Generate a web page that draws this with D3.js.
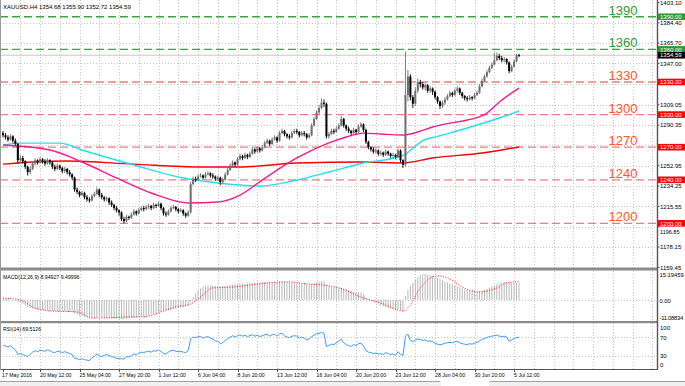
<!DOCTYPE html>
<html>
<head>
<meta charset="utf-8">
<script src="https://cdn.jsdelivr.net/npm/d3@7"></script>
<style>
  body { margin: 0; background: #fff; }
  svg { display: block; font-family: "Liberation Sans", Arial, sans-serif; }
</style>
</head>
<body>
<div id="viz"></div>
<script>
// XAUUSD H4 candles, bar index = position in the arrays
const opens = [1283,1281,1279,1277,1280,1276,1273,1258,1260,1257,
  1252,1247,1250,1255,1258,1256,1259,1257,1255,1258,
  1256,1252,1250,1253,1251,1248,1250,1247,1245,1242,
  1231,1229,1226,1228,1224,1222,1221,1225,1227,1231,
  1226,1224,1222,1223,1219,1217,1214,1212,1210,1204,
  1202,1206,1205,1208,1211,1209,1212,1214,1213,1215,
  1216,1214,1217,1216,1218,1214,1209,1208,1211,1214,
  1215,1213,1211,1212,1209,1207,1210,1236,1241,1240,
  1243,1244,1242,1245,1246,1244,1243,1241,1242,1238,
  1240,1245,1249,1253,1256,1254,1259,1262,1260,1263,
  1261,1264,1268,1266,1269,1267,1270,1274,1276,1273,
  1277,1279,1276,1283,1285,1282,1280,1279,1283,1285,
  1284,1281,1283,1282,1279,1281,1290,1296,1302,1306,
  1311,1310,1280,1282,1285,1284,1287,1290,1296,1290,
  1287,1285,1283,1286,1284,1289,1291,1286,1275,1270,
  1268,1266,1267,1264,1265,1263,1266,1264,1262,1263,
  1261,1267,1258,1254,1318,1335,1316,1310,1322,1330,
  1328,1325,1327,1322,1324,1321,1316,1312,1308,1311,
  1314,1317,1320,1318,1322,1324,1320,1317,1315,1314,
  1316,1315,1318,1320,1326,1331,1335,1339,1343,1346,
  1350,1354,1352,1350,1351,1348,1340,1344,1349,1354.68]

const highs = [1285,1283,1281,1282,1281,1278,1274,1263,1262,1258,
  1253,1252,1257,1260,1259,1261,1260,1259,1260,1259,
  1257,1254,1255,1254,1252,1252,1251,1249,1246,1243,
  1233,1230,1230,1229,1226,1224,1227,1229,1233,1232,
  1228,1225,1225,1224,1221,1218,1216,1213,1211,1206,
  1208,1207,1210,1213,1212,1214,1216,1216,1217,1218,
  1217,1219,1218,1220,1219,1215,1211,1213,1216,1217,
  1216,1214,1214,1213,1210,1212,1238,1243,1243,1245,
  1246,1245,1247,1248,1247,1246,1244,1244,1243,1242,
  1247,1251,1255,1258,1257,1261,1264,1263,1265,1264,
  1266,1270,1269,1271,1270,1272,1276,1278,1277,1279,
  1281,1280,1285,1287,1286,1283,1282,1285,1287,1287,
  1285,1285,1285,1283,1283,1292,1298,1304,1309,1315,
  1314,1311,1284,1287,1287,1289,1292,1299,1297,1291,
  1289,1286,1288,1287,1291,1293,1292,1287,1276,1271,
  1270,1269,1268,1267,1266,1268,1267,1265,1265,1264,
  1269,1268,1259,1358,1341,1337,1318,1325,1333,1332,
  1330,1329,1328,1326,1325,1322,1317,1313,1313,1316,
  1319,1322,1321,1324,1326,1325,1321,1318,1317,1318,
  1317,1320,1322,1328,1333,1337,1341,1345,1348,1357,
  1357,1356,1354,1353,1352,1349,1346,1351,1356,1355.90]

const lows = [1279,1277,1275,1276,1274,1271,1255,1256,1255,1250,
  1244,1245,1249,1253,1254,1255,1255,1253,1254,1254,
  1250,1248,1249,1249,1246,1246,1245,1243,1240,1229,
  1227,1224,1225,1222,1220,1219,1220,1224,1226,1224,
  1222,1220,1220,1217,1215,1212,1210,1207,1202,1200,
  1201,1203,1204,1207,1207,1208,1211,1211,1212,1213,
  1212,1213,1214,1215,1212,1207,1206,1207,1210,1213,
  1211,1209,1210,1207,1205,1206,1209,1235,1238,1239,
  1242,1240,1241,1244,1242,1241,1239,1239,1235,1236,
  1239,1244,1248,1252,1252,1253,1258,1258,1259,1259,
  1260,1263,1264,1265,1265,1266,1269,1273,1271,1272,
  1276,1274,1275,1282,1280,1278,1277,1278,1282,1282,
  1279,1280,1280,1277,1278,1280,1289,1295,1300,1305,
  1307,1278,1278,1281,1282,1283,1286,1289,1288,1285,
  1283,1281,1282,1282,1283,1288,1284,1273,1268,1266,
  1264,1264,1262,1262,1261,1262,1262,1260,1260,1259,
  1260,1256,1251,1252,1312,1313,1306,1308,1320,1325,
  1323,1322,1320,1320,1318,1314,1310,1305,1306,1309,
  1313,1316,1316,1317,1320,1318,1315,1313,1312,1313,
  1313,1314,1317,1319,1325,1330,1334,1338,1342,1345,
  1349,1350,1348,1348,1346,1338,1339,1343,1348,1352.72]

const closes = [1281,1279,1277,1280,1276,1273,1258,1260,1257,1252,
  1247,1250,1255,1258,1256,1259,1257,1255,1258,1256,
  1252,1250,1253,1251,1248,1250,1247,1245,1242,1231,
  1229,1226,1228,1224,1222,1221,1225,1227,1231,1226,
  1224,1222,1223,1219,1217,1214,1212,1210,1204,1202,
  1206,1205,1208,1211,1209,1212,1214,1213,1215,1216,
  1214,1217,1216,1218,1214,1209,1208,1211,1214,1215,
  1213,1211,1212,1209,1207,1210,1236,1241,1240,1243,
  1244,1242,1245,1246,1244,1243,1241,1242,1238,1240,
  1245,1249,1253,1256,1254,1259,1262,1260,1263,1261,
  1264,1268,1266,1269,1267,1270,1274,1276,1273,1277,
  1279,1276,1283,1285,1282,1280,1279,1283,1285,1284,
  1281,1283,1282,1279,1281,1290,1296,1302,1306,1311,
  1310,1280,1282,1285,1284,1287,1290,1296,1290,1287,
  1285,1283,1286,1284,1289,1291,1286,1275,1270,1268,
  1266,1267,1264,1265,1263,1266,1264,1262,1263,1261,
  1267,1258,1254,1318,1335,1316,1310,1322,1330,1328,
  1325,1327,1322,1324,1321,1316,1312,1308,1311,1314,
  1317,1320,1318,1322,1324,1320,1317,1315,1314,1316,
  1315,1318,1320,1326,1331,1335,1339,1343,1346,1350,
  1354,1352,1350,1351,1348,1340,1344,1349,1354.68,1354.59]

// moving averages (bar index, price)
const pinkMaBars = [0, 19, 32, 46, 60, 75, 87, 96, 105, 119, 132, 139, 146, 153, 162, 168, 174, 181, 188, 196, 201, 209]
const pinkMa = [1272.0, 1267.4, 1256.4, 1241.7, 1227.9, 1218.7, 1219.6, 1226.0, 1239.8, 1260.1, 1273.9, 1279.4, 1283.0, 1282.1, 1281.2, 1284.0, 1288.6, 1292.2, 1295.0, 1301.4, 1311.6, 1324.4]
const cyanMaBars = [0, 7, 23, 32, 53, 73, 87, 96, 104, 119, 132, 146, 160, 163, 166, 170, 176, 188, 201, 209]
const cyanMa = [1272.0, 1273.8, 1273.8, 1267.4, 1253.6, 1241.7, 1237.1, 1235.2, 1234.3, 1239.8, 1247.2, 1255.5, 1261.0, 1263.5, 1269.0, 1276.0, 1280.0, 1287.7, 1296.9, 1303.3]
const redMaBars = [0, 12, 26, 53, 80, 96, 119, 146, 162, 174, 194, 209]
const redMa = [1254.4, 1256.4, 1257.3, 1254.4, 1251.8, 1251.8, 1255.5, 1256.4, 1255.5, 1260.1, 1264.7, 1270.2]

// horizontal levels
const greenLevels = [1390, 1360]
const redLevels = [1330, 1300, 1270, 1240, 1200]
const lastPrice = 1354.59

// MACD(12,26,9)
const macdHist = [1.0, 0.8, 0.5, 0.3, 0.0, -0.3, -0.8, -1.5,
  -2.2, -3.0, -3.8, -4.3, -4.6, -4.8, -5.0, -5.2,
  -5.4, -5.5, -5.6, -5.7, -5.8, -5.9, -6.0, -6.0, -6.1, -6.1, -6.2, -6.3, -6.5, -7.2,
  -7.8, -8.3, -8.6, -8.9, -9.1, -9.3, -9.4, -9.4, -9.2, -9.3, -9.4, -9.5, -9.6, -9.7, -9.8,
  -9.8, -9.9, -10.0, -10.2, -10.3, -10.1, -9.9, -9.7, -9.5, -9.3, -9.1, -9.0, -8.9,
  -8.6, -8.2, -7.8, -7.4, -7.0, -6.6, -6.3, -6.0, -5.8, -5.5, -5.2, -4.9, -4.6, -4.3, -4.0, -3.7, -3.5, -3.2,
  -1.0, 1.5, 3.5, 5.0, 6.0, 6.8, 7.2, 7.5,
  7.6, 7.5, 7.3, 7.2, 7.0, 7.1, 7.3, 7.6, 7.9, 8.1, 8.2, 8.3, 8.5, 8.6, 8.7, 8.8, 8.9,
  9.0, 9.0, 9.1, 9.1, 9.2, 9.3, 9.4, 9.4, 9.4, 9.5, 9.4, 9.5, 9.6, 9.5, 9.3, 9.1, 9.0, 8.9, 8.7, 8.5,
  8.4, 8.3, 8.1, 8.0, 8.3, 8.8, 9.3, 9.6, 9.8, 9.7, 8.0, 7.2, 6.8, 6.5, 6.3, 6.2, 6.4, 6.0, 5.6, 5.2, 4.8,
  4.4, 4.2, 4.0, 3.8, 3.0, 1.5, 0.5, -0.3, -1.0,
  -1.8, -2.4, -3.0, -3.4, -3.8, -4.2, -4.5, -4.8, -5.0, -4.8, -5.3, -5.8,
  2.0, 5.5, 7.5, 9.0, 10.8, 12.2, 13.2, 13.6, 13.5, 13.3, 13.0, 12.7, 12.2, 11.6,
  11.0, 10.3, 9.7, 9.2, 8.7, 8.2, 7.7, 7.2, 6.7, 6.2, 5.7, 5.3, 5.0,
  4.7, 4.5, 4.4, 4.5, 4.8, 5.3, 5.9,
  6.5, 7.1, 7.7, 8.2, 8.7, 9.1, 9.4, 9.5, 9.2, 9.0, 8.9, 8.9, 8.95]
const signalBars = [0, 7, 12, 19, 30, 36, 39, 53, 57, 64, 70, 76, 80, 85, 93, 107, 115, 123, 132, 136, 146, 153, 160, 162, 165, 168, 172, 176, 180, 186, 193, 200, 204, 209]
const signalVals = [1.0, 0.0, -3.7, -5.8, -6.3, -9.5, -9.5, -8.9, -8.9, -6.3, -3.7, -2.1, 1.6, 6.3, 6.8, 8.9, 9.5, 8.4, 7.4, 6.3, 1.0, -1.6, -5.3, -5.8, -2.6, 4.2, 10.5, 12.6, 11.6, 6.8, 4.2, 6.3, 8.9, 9.5]

// RSI(14)
const rsiVals = [53, 51, 49, 52, 47, 43, 33, 35, 33, 31,
  29, 33, 38, 41, 39, 42, 41, 40, 43, 41,
  38, 37, 40, 39, 37, 39, 37, 35, 33, 25,
  24, 22, 24, 22, 21, 20, 26, 29, 34, 30,
  29, 31, 33, 30, 29, 27, 25, 24, 24, 23,
  28, 28, 30, 34, 32, 36, 38, 37, 39, 40,
  38, 41, 40, 43, 39, 35, 34, 38, 41, 42,
  40, 39, 40, 38, 37, 41, 66, 70, 69, 71,
  71, 68, 70, 71, 68, 66, 62, 61, 56, 58,
  63, 66, 70, 73, 70, 73, 75, 72, 74, 71,
  73, 75, 72, 74, 71, 73, 75, 76, 72, 75,
  76, 72, 77, 78, 73, 70, 69, 72, 73, 72,
  68, 70, 68, 64, 66, 71, 74, 77, 78, 80,
  78, 50, 52, 55, 54, 58, 61, 66, 58, 54,
  52, 50, 54, 52, 56, 57, 51, 41, 38, 37,
  35, 36, 34, 35, 33, 37, 35, 33, 34, 31,
  39, 33, 31, 72, 76, 63, 60, 64, 66, 65,
  63, 64, 61, 62, 60, 57, 55, 53, 55, 57,
  58, 59, 58, 60, 61, 58, 56, 55, 54, 56,
  55, 57, 59, 62, 65, 67, 69, 71, 72, 73,
  74, 72, 71, 72, 70, 61, 64, 67, 69, 69.5]

// axis labels
const priceTicks = [1403.10, 1384.40, 1365.70, 1347.00, 1328.30, 1309.05, 1290.35, 1271.65, 1252.95, 1234.25, 1215.55, 1196.85, 1178.15, 1159.45]
const timeLabels = ['17 May 2016', '20 May 12:00', '25 May 04:00', '27 May 20:00', '1 Jun 12:00', '6 Jun 04:00', '8 Jun 20:00', '13 Jun 12:00', '16 Jun 04:00', '20 Jun 20:00', '23 Jun 12:00', '28 Jun 04:00', '30 Jun 20:00', '5 Jul 12:00']
const timeLabelBars = [0, 15, 31, 47, 63, 79, 95, 111, 127, 143, 159, 175, 191, 207]

let width = 685, height = 386
let plotRight = 657

let x = d3.scaleLinear().domain([0, 209]).range([3, 3 + 209 * 2.469])
let y = d3.scaleLinear().domain([1159.45, 1403.10]).range([267.4, 2.5])
let yMacd = d3.scaleLinear().domain([-11.08834, 15.19459]).range([321, 271])
let yRsi = d3.scaleLinear().domain([0, 100]).range([370, 323])

let svg = d3.select('#viz')
            .append('svg')
            .attr('width', width)
            .attr('height', height)
            .style('background', '#fff')

const gridColor = '#c4c4c4'

// vertical grid, every 8 bars
let gridBars = d3.range(7, 265, 8)
const panels = [[0, 268], [271, 321], [323, 369]]
panels.forEach(p => {
  svg.append('g').selectAll('line')
    .data(gridBars)
    .enter()
      .append('line')
      .attr('x1', d => Math.round(x(d)) + 0.5)
      .attr('x2', d => Math.round(x(d)) + 0.5)
      .attr('y1', p[0])
      .attr('y2', p[1])
      .attr('stroke', gridColor)
      .attr('stroke-dasharray', '1,2')
})

// horizontal grid
svg.append('g').selectAll('line')
  .data(priceTicks.slice(1, -1))
  .enter()
    .append('line')
    .attr('x1', 0).attr('x2', plotRight)
    .attr('y1', d => Math.round(y(d)) + 0.5)
    .attr('y2', d => Math.round(y(d)) + 0.5)
    .attr('stroke', gridColor)
    .attr('stroke-dasharray', '1,2')

svg.append('line')
  .attr('x1', 0).attr('x2', plotRight)
  .attr('y1', Math.round(yMacd(0)) + 0.5).attr('y2', Math.round(yMacd(0)) + 0.5)
  .attr('stroke', gridColor).attr('stroke-dasharray', '1,2')

svg.append('g').selectAll('line')
  .data([70, 30])
  .enter()
    .append('line')
    .attr('x1', 0).attr('x2', plotRight)
    .attr('y1', d => Math.round(yRsi(d)) + 0.5)
    .attr('y2', d => Math.round(yRsi(d)) + 0.5)
    .attr('stroke', gridColor)
    .attr('stroke-dasharray', '1,2')

// bid line
svg.append('line')
  .attr('x1', 0).attr('x2', plotRight)
  .attr('y1', y(lastPrice)).attr('y2', y(lastPrice))
  .attr('stroke', '#c8c8c8').attr('stroke-width', 1)

// level lines
svg.append('g').selectAll('line')
  .data(greenLevels)
  .enter()
    .append('line')
    .attr('x1', 0).attr('x2', plotRight)
    .attr('y1', d => y(d)).attr('y2', d => y(d))
    .attr('stroke', '#3fa33f')
    .attr('stroke-width', 1.3)
    .attr('stroke-dasharray', '8,4')

svg.append('g').selectAll('line')
  .data(redLevels)
  .enter()
    .append('line')
    .attr('x1', 0).attr('x2', plotRight)
    .attr('y1', d => y(d)).attr('y2', d => y(d))
    .attr('stroke', '#f77b7b')
    .attr('stroke-width', 1.3)
    .attr('stroke-dasharray', '8,4')

// moving averages
let maLine = (bars, vals) => d3.line()
  .x((d, k) => x(bars[k]))
  .y(d => y(d))
  .curve(d3.curveMonotoneX)(vals)

svg.append('path').attr('d', maLine(redMaBars, redMa))
  .attr('fill', 'none').attr('stroke', '#ff0000').attr('stroke-width', 1.4)
svg.append('path').attr('d', maLine(cyanMaBars, cyanMa))
  .attr('fill', 'none').attr('stroke', '#22e0f0').attr('stroke-width', 1.4)
svg.append('path').attr('d', maLine(pinkMaBars, pinkMa))
  .attr('fill', 'none').attr('stroke', '#ff1a8c').attr('stroke-width', 1.4)

// candles: bear black, bull grey
let candles = d3.range(closes.length).map(i => {
  return { i: i, o: opens[i], h: highs[i], l: lows[i], c: closes[i] }
})
let candleColor = d => d.c >= d.o ? '#6e6e6e' : '#000'

svg.append('g').selectAll('line')
  .data(candles)
  .enter()
    .append('line')
    .attr('x1', d => x(d.i)).attr('x2', d => x(d.i))
    .attr('y1', d => y(d.h)).attr('y2', d => y(d.l))
    .attr('stroke', candleColor)
    .attr('stroke-width', 0.9)

svg.append('g').selectAll('rect')
  .data(candles)
  .enter()
    .append('rect')
    .attr('x', d => x(d.i) - 1)
    .attr('width', 2)
    .attr('y', d => y(Math.max(d.o, d.c)))
    .attr('height', d => Math.max(0.8, Math.abs(y(d.o) - y(d.c))))
    .style('fill', candleColor)

// level captions
svg.append('g').selectAll('text')
  .data(greenLevels)
  .enter()
    .append('text')
    .attr('x', 623).attr('y', d => y(d) - 2)
    .attr('text-anchor', 'middle')
    .attr('font-size', 13)
    .attr('fill', '#2f9a2f')
    .text(d => d)

svg.append('g').selectAll('text')
  .data(redLevels)
  .enter()
    .append('text')
    .attr('x', 623).attr('y', d => y(d) - 2)
    .attr('text-anchor', 'middle')
    .attr('font-size', 13)
    .attr('fill', '#ff5722')
    .text(d => d)

// MACD
svg.append('g').selectAll('line')
  .data(macdHist)
  .enter()
    .append('line')
    .attr('x1', (d, i) => x(i)).attr('x2', (d, i) => x(i))
    .attr('y1', yMacd(0)).attr('y2', d => yMacd(d))
    .attr('stroke', '#b8b8b8')
    .attr('stroke-width', 1)

svg.append('path')
  .attr('d', d3.line().x((d, k) => x(signalBars[k])).y(d => yMacd(d)).curve(d3.curveMonotoneX)(signalVals))
  .attr('fill', 'none')
  .attr('stroke', '#ff2020')
  .attr('stroke-width', 1)
  .attr('stroke-dasharray', '1,1.5')

// RSI
svg.append('path')
  .attr('d', d3.line().x((d, i) => x(i)).y(d => yRsi(d))(rsiVals))
  .attr('fill', 'none')
  .attr('stroke', '#3b9bff')
  .attr('stroke-width', 1)

// frame
svg.append('rect').attr('x', 0).attr('y', 267.5).attr('width', plotRight + 1).attr('height', 3).attr('fill', '#8a8a8a')
svg.append('rect').attr('x', 0).attr('y', 321).attr('width', plotRight + 1).attr('height', 2.2).attr('fill', '#8a8a8a')
svg.append('line').attr('x1', 0).attr('x2', plotRight + 1).attr('y1', 369.5).attr('y2', 369.5).attr('stroke', '#555')
svg.append('line').attr('x1', plotRight + 0.5).attr('x2', plotRight + 0.5).attr('y1', 0).attr('y2', 370).attr('stroke', '#555').attr('stroke-width', 1.4)
svg.append('line').attr('x1', 0.5).attr('x2', 0.5).attr('y1', 0).attr('y2', 370).attr('stroke', '#9a9a9a')

// level tags on axis
let tags = greenLevels.map(v => ({ v: v, c: '#2f9a2f' }))
  .concat(redLevels.map(v => ({ v: v, c: '#ff0000' })))
  .concat([{ v: lastPrice, c: '#000' }])

// price axis labels; those sitting under a tag are left out, 1196.85 peeks out below its tag
let shownTicks = priceTicks.filter(t => !tags.some(g => Math.abs(y(g.v) - y(t)) < 4))
svg.append('g').selectAll('text')
  .data(shownTicks)
  .enter()
    .append('text')
    .attr('x', 660)
    .attr('y', d => y(d) + 2.2)
    .attr('font-size', 6)
    .attr('fill', '#000')
    .text(d => d.toFixed(2))
svg.append('text').attr('x', 660).attr('y', y(1196.85) + 7.2).attr('font-size', 5.5).text('1196.85')

svg.append('g').selectAll('line')
  .data(priceTicks)
  .enter()
    .append('line')
    .attr('x1', plotRight).attr('x2', plotRight + 2.5)
    .attr('y1', d => y(d)).attr('y2', d => y(d))
    .attr('stroke', '#555')

let tagG = svg.append('g').selectAll('g')
  .data(tags)
  .enter()
    .append('g')
tagG.append('rect')
  .attr('x', plotRight + 1).attr('width', 27)
  .attr('y', d => y(d.v) - 3.3).attr('height', 6.6)
  .style('fill', d => d.c)
tagG.append('text')
  .attr('x', 660).attr('y', d => y(d.v) + 2.2)
  .attr('font-size', 6)
  .attr('fill', '#fff')
  .text(d => d.v.toFixed(2))

// MACD axis
const macdLabels = [[15.19459, '15.19459', 5.5], [0, '0.00', 3], [-11.08834, '-11.08834', -1]]
svg.append('g').selectAll('text')
  .data(macdLabels)
  .enter()
    .append('text')
    .attr('x', 659.5).attr('y', d => yMacd(d[0]) + d[2])
    .attr('font-size', 5.8)
    .attr('letter-spacing', d => d[1].length > 8 ? -0.25 : 0)
    .text(d => d[1])

// RSI axis
const rsiLabels = [[100, 6.5], [70, 3], [30, 2.5], [0, -3]]
svg.append('g').selectAll('text')
  .data(rsiLabels)
  .enter()
    .append('text')
    .attr('x', 660).attr('y', d => yRsi(d[0]) + d[1])
    .attr('font-size', 6)
    .text(d => d[0])

// time axis
svg.append('g').selectAll('text')
  .data(timeLabels)
  .enter()
    .append('text')
    .attr('x', (d, k) => k === 0 ? 2 : x(timeLabelBars[k]))
    .attr('y', 377)
    .attr('font-size', 5.2)
    .text(d => d)

svg.append('g').selectAll('line')
  .data(timeLabelBars)
  .enter()
    .append('line')
    .attr('x1', d => Math.round(x(d)) + 0.5).attr('x2', d => Math.round(x(d)) + 0.5)
    .attr('y1', 370).attr('y2', 372)
    .attr('stroke', '#555')

// titles
svg.append('text').attr('x', 3).attr('y', 8.5).attr('font-size', 6)
  .text('XAUUSD,H4  1354.68 1355.90 1352.72 1354.59')
svg.append('text').attr('x', 3).attr('y', 278.5).attr('font-size', 5.2)
  .text('MACD(12,26,9) 8.94927 9.49996')
svg.append('text').attr('x', 3).attr('y', 330.5).attr('font-size', 5.2)
  .text('RSI(14) 69.5126')

// tab strip
svg.append('rect').attr('x', 0).attr('y', 381).attr('width', width).attr('height', 5).attr('fill', '#f0f0f0')
svg.append('line').attr('x1', 0).attr('x2', 440).attr('y1', 381.5).attr('y2', 381.5).attr('stroke', '#a0a0a0')
svg.append('line').attr('x1', 490).attr('x2', width).attr('y1', 381.5).attr('y2', 381.5).attr('stroke', '#a0a0a0')
svg.append('rect').attr('x', 441).attr('y', 381).attr('width', 48).attr('height', 5).attr('fill', '#fff')
</script>
</body>
</html>
